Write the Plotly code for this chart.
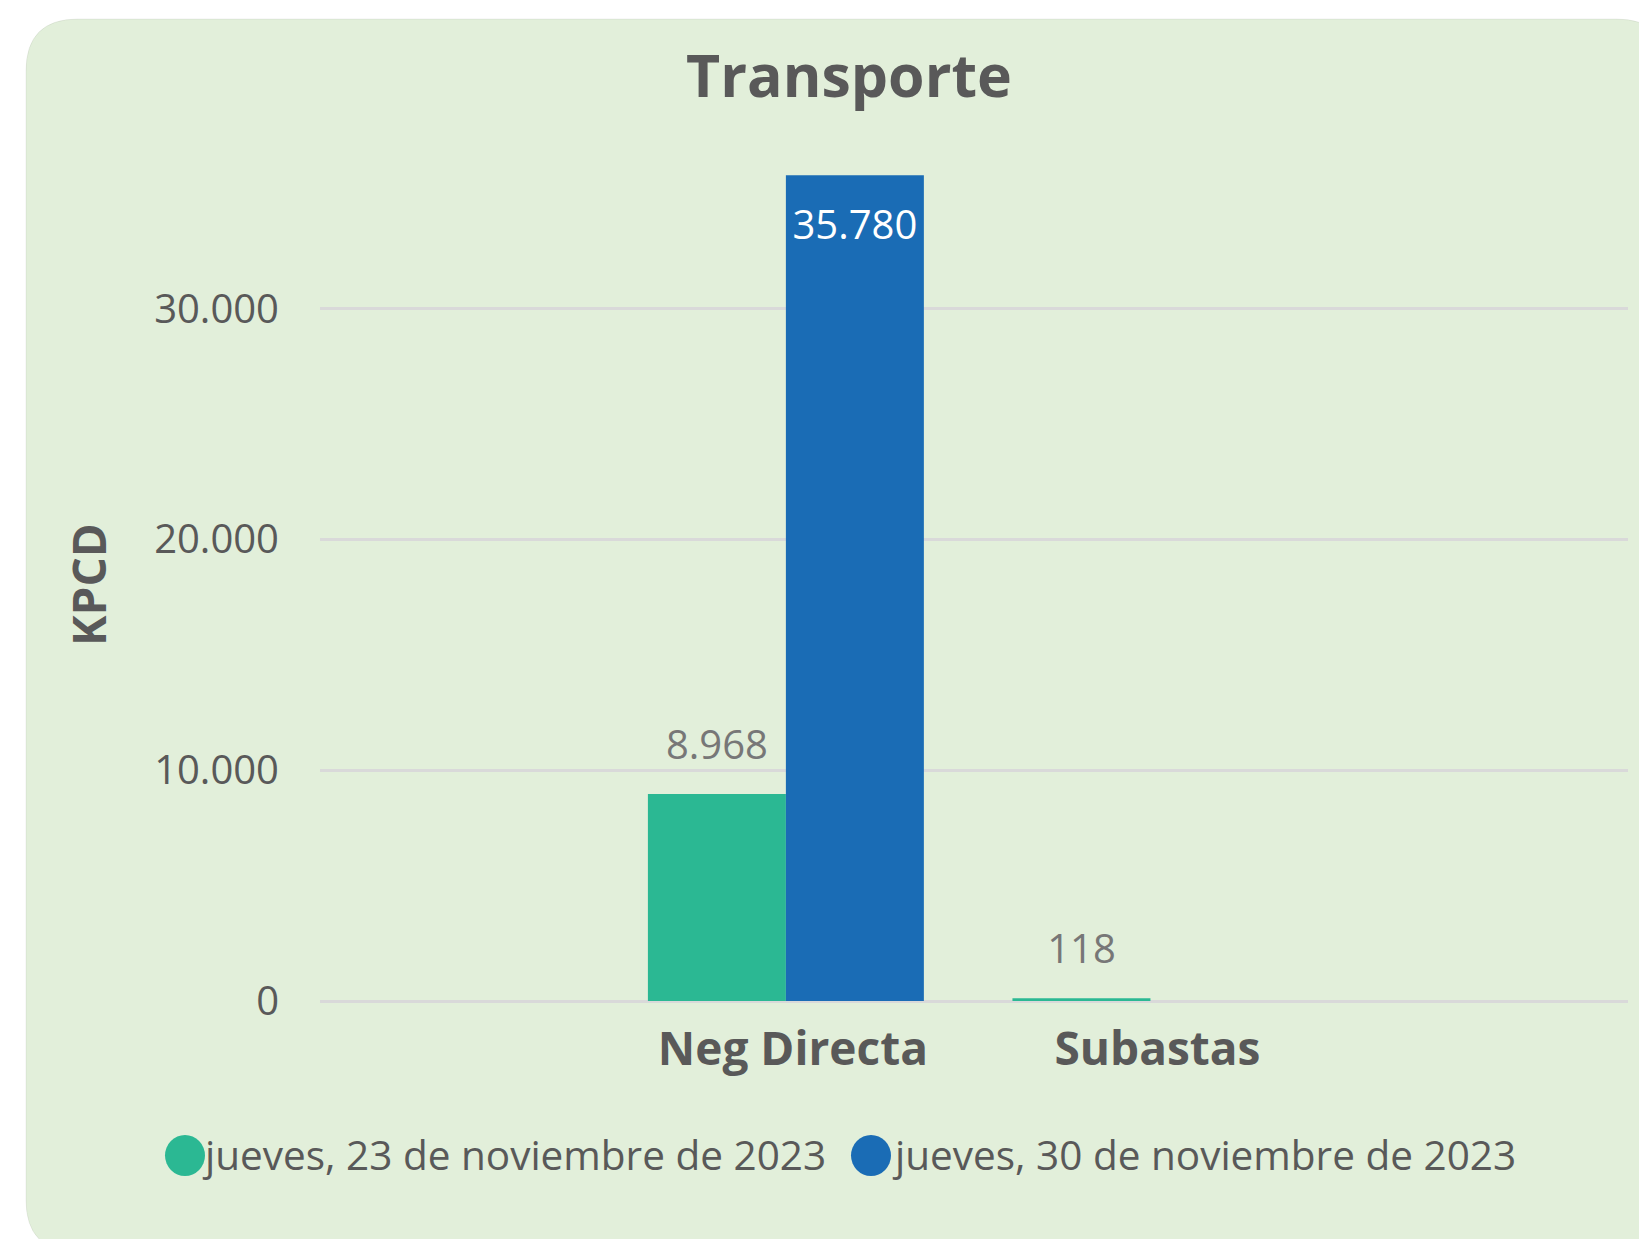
import plotly.graph_objects as go

categories = ["Neg Directa", "Subastas"]
series_names = ["jueves, 23 de noviembre de 2023", "jueves, 30 de noviembre de 2023"]
values_23 = [8968, 118]
values_30 = [35780, None]
series_colors = ["#2BB893", "#1A6CB5"]
y_ticks = [0, 10000, 20000, 30000]
y_title = "KPCD"
chart_title = "Transporte"

# page coordinates (page has an 8px body margin around the figure)
OFF = 8
W, H = 1647, 1239
PLOT_L, PLOT_R, PLOT_T, PLOT_B = 320, 1628, 147, 1001
L = PLOT_L - OFF
R = W - (PLOT_R - OFF)
T = PLOT_T - OFF
B = H - (PLOT_B - OFF)
PW, PH = PLOT_R - PLOT_L, PLOT_B - PLOT_T


def px(x):
    return (x - PLOT_L) / PW


def py(y):
    return (PLOT_B - y) / PH


FONT = "Open Sans"
GREY = "#595959"
LBL = 40

fig = go.Figure()
fig.add_trace(go.Bar(
    x=categories, y=values_23, name=series_names[0],
    marker=dict(color=series_colors[0], line=dict(width=0)),
    texttemplate=f"<span style='font-size:{LBL}px'>%{{y:,.0f}}</span><br><span style='font-size:1px'>&nbsp;</span>",
    textposition="outside",
    textfont=dict(family=FONT, size=25, color="#777777"),
    cliponaxis=False, showlegend=False,
))
fig.add_trace(go.Bar(
    x=categories, y=values_30, name=series_names[1],
    marker=dict(color=series_colors[1], line=dict(width=0)),
    texttemplate=f"<span style='font-size:1px'>&nbsp;</span><br><span style='font-size:{LBL}px'>%{{y:,.0f}}</span>",
    textposition="inside", insidetextanchor="end",
    textfont=dict(family=FONT, size=46, color="white"),
    showlegend=False,
))

# card background
l0, t0, r0, b0, rad = 26, 19, 1668, 1252, 52
path = (
    f"M {px(l0 + rad)} {py(t0)} L {px(r0 - rad)} {py(t0)} "
    f"Q {px(r0)} {py(t0)} {px(r0)} {py(t0 + rad)} "
    f"L {px(r0)} {py(b0 - rad)} Q {px(r0)} {py(b0)} {px(r0 - rad)} {py(b0)} "
    f"L {px(l0 + rad)} {py(b0)} Q {px(l0)} {py(b0)} {px(l0)} {py(b0 - rad)} "
    f"L {px(l0)} {py(t0 + rad)} Q {px(l0)} {py(t0)} {px(l0 + rad)} {py(t0)} Z"
)
shapes = [dict(type="path", path=path, xref="paper", yref="paper",
               fillcolor="#E2EFDA", line=dict(color="rgba(0,0,0,0.06)", width=1),
               layer="below")]

# y-axis title
annotations = [dict(text=f"<b>{y_title}</b>", xref="paper", yref="paper",
                    x=px(88), y=py(585), xanchor="center", yanchor="middle",
                    textangle=-90, showarrow=False,
                    font=dict(family=FONT, size=46, color=GREY))]

# custom legend (circle markers)
legend_items = [(185, 200), (871, 890)]
for (cx, tx), name, col in zip(legend_items, series_names, series_colors):
    shapes.append(dict(type="circle", xref="paper", yref="paper",
                       x0=px(cx - 20), x1=px(cx + 20), y0=py(1176), y1=py(1135),
                       fillcolor=col, line=dict(width=0)))
    annotations.append(dict(text=name, xref="paper", yref="paper", x=px(tx), y=py(1154),
                            xanchor="left", yanchor="middle", showarrow=False,
                            font=dict(family=FONT, size=40.5, color=GREY)))

fig.update_layout(
    width=W, height=H,
    margin=dict(l=L, r=R, t=T, b=B, autoexpand=False),
    paper_bgcolor="white", plot_bgcolor="rgba(0,0,0,0)",
    separators=",.",
    barmode="group", bargap=0.243, bargroupgap=0,
    title=dict(text=f"<b>{chart_title}</b>", xref="container", x=(849 - OFF) / W, xanchor="center",
               y=1 - (76 - OFF) / H, yanchor="middle",
               font=dict(family=FONT, size=59, color=GREY)),
    shapes=shapes, annotations=annotations,
    xaxis=dict(type="category", range=[-1.278, 2.31], showgrid=False, zeroline=False,
               showline=False, ticks="", ticklabelstandoff=17, ticklabelshift=7,
               tickfont=dict(family=FONT, size=46, color=GREY),
               tickvals=categories, ticktext=[f"<b>{c}</b>" for c in categories]),
    yaxis=dict(range=[0, 37000], tickvals=y_ticks, tickformat=",.0f",
               showgrid=True, gridcolor="#D9D9D9", gridwidth=3,
               zeroline=True, zerolinecolor="#D9D9D9", zerolinewidth=3,
               showline=False, ticks="", ticklabelstandoff=40,
               tickfont=dict(family=FONT, size=40, color=GREY)),
    showlegend=False,
)

fig.write_html("out.html")
